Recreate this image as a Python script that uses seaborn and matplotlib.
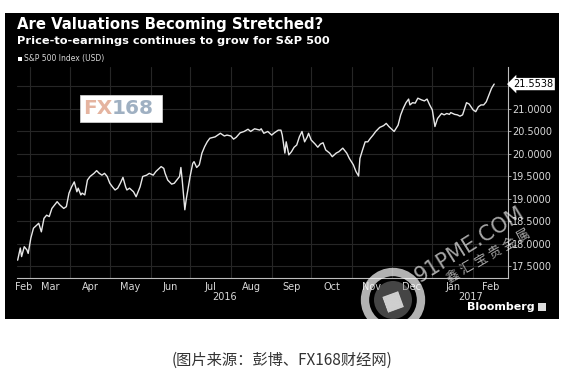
import matplotlib
matplotlib.use("Agg")
import matplotlib.pyplot as plt
import matplotlib.patches as patches
import numpy as np
import pandas as pd
import seaborn as sns

# --- dane (P/E dla S&P 500) ---
dates = [
    "2016-02-21", "2016-02-23", "2016-02-24", "2016-02-26", "2016-02-28", "2016-02-29",
    "2016-03-02", "2016-03-04", "2016-03-08", "2016-03-10", "2016-03-12", "2016-03-14",
    "2016-03-16", "2016-03-18", "2016-03-21", "2016-03-22", "2016-03-24", "2016-03-27",
    "2016-03-29", "2016-03-31", "2016-04-02", "2016-04-04", "2016-04-05", "2016-04-06",
    "2016-04-07", "2016-04-09", "2016-04-10", "2016-04-12", "2016-04-14", "2016-04-16",
    "2016-04-19", "2016-04-21", "2016-04-23", "2016-04-25", "2016-04-27", "2016-04-29",
    "2016-05-01", "2016-05-03", "2016-05-05", "2016-05-07", "2016-05-09", "2016-05-11",
    "2016-05-13", "2016-05-14", "2016-05-16", "2016-05-19", "2016-05-21", "2016-05-24",
    "2016-05-26", "2016-05-29", "2016-05-31", "2016-06-03", "2016-06-05", "2016-06-09",
    "2016-06-11", "2016-06-12", "2016-06-14", "2016-06-17", "2016-06-19", "2016-06-22",
    "2016-06-23", "2016-06-24", "2016-06-25", "2016-06-27", "2016-06-28", "2016-07-01",
    "2016-07-03", "2016-07-04", "2016-07-06", "2016-07-08", "2016-07-10", "2016-07-12",
    "2016-07-14", "2016-07-16", "2016-07-20", "2016-07-22", "2016-07-24", "2016-07-27",
    "2016-07-29", "2016-08-01", "2016-08-03", "2016-08-05", "2016-08-08", "2016-08-11",
    "2016-08-14", "2016-08-16", "2016-08-19", "2016-08-23", "2016-08-24", "2016-08-26",
    "2016-08-29", "2016-09-01", "2016-09-03", "2016-09-06", "2016-09-08", "2016-09-09",
    "2016-09-11", "2016-09-12", "2016-09-14", "2016-09-16", "2016-09-18", "2016-09-20",
    "2016-09-22", "2016-09-24", "2016-09-26", "2016-09-28", "2016-09-29", "2016-10-01",
    "2016-10-04", "2016-10-06", "2016-10-08", "2016-10-10", "2016-10-12", "2016-10-15",
    "2016-10-17", "2016-10-20", "2016-10-22", "2016-10-25", "2016-10-28", "2016-10-30",
    "2016-11-02", "2016-11-04", "2016-11-06", "2016-11-07", "2016-11-09", "2016-11-11",
    "2016-11-13", "2016-11-15", "2016-11-17", "2016-11-19", "2016-11-22", "2016-11-25",
    "2016-11-27", "2016-11-29", "2016-12-03", "2016-12-06", "2016-12-08", "2016-12-10",
    "2016-12-12", "2016-12-14", "2016-12-15", "2016-12-17", "2016-12-19", "2016-12-21",
    "2016-12-24", "2016-12-26", "2016-12-28", "2016-12-30", "2017-01-01", "2017-01-02",
    "2017-01-03", "2017-01-05", "2017-01-08", "2017-01-10", "2017-01-12", "2017-01-14",
    "2017-01-15", "2017-01-18", "2017-01-20", "2017-01-22", "2017-01-24", "2017-01-26",
    "2017-01-27", "2017-01-29", "2017-02-01", "2017-02-03", "2017-02-05", "2017-02-07",
    "2017-02-09", "2017-02-11", "2017-02-13", "2017-02-15", "2017-02-17",
]
pe_ratio = [
    17.64, 17.91, 17.72, 17.94, 17.87, 17.79,
    18.13, 18.35, 18.46, 18.27, 18.57, 18.64,
    18.61, 18.79, 18.90, 18.94, 18.87, 18.79,
    18.83, 19.13, 19.27, 19.38, 19.27, 19.16,
    19.24, 19.09, 19.13, 19.09, 19.42, 19.50,
    19.57, 19.63, 19.57, 19.53, 19.57, 19.50,
    19.35, 19.27, 19.20, 19.24, 19.35, 19.48,
    19.27, 19.20, 19.24, 19.16, 19.05, 19.27,
    19.50, 19.53, 19.57, 19.53, 19.61, 19.72,
    19.68, 19.57, 19.42, 19.33, 19.35, 19.46,
    19.50, 19.70, 19.42, 18.76, 18.98, 19.50,
    19.79, 19.83, 19.70, 19.76, 20.02, 20.16,
    20.27, 20.35, 20.38, 20.42, 20.46, 20.40,
    20.42, 20.40, 20.33, 20.37, 20.47, 20.50,
    20.55, 20.50, 20.56, 20.53, 20.56, 20.46,
    20.50, 20.42, 20.47, 20.53, 20.53, 20.42,
    20.02, 20.27, 19.98, 20.05, 20.15, 20.20,
    20.38, 20.50, 20.27, 20.38, 20.46, 20.31,
    20.22, 20.15, 20.22, 20.25, 20.09, 20.02,
    19.94, 20.02, 20.05, 20.13, 20.02, 19.90,
    19.76, 19.61, 19.51, 19.90, 20.09, 20.27,
    20.27, 20.35, 20.42, 20.50, 20.59, 20.63,
    20.68, 20.61, 20.50, 20.64, 20.87, 21.02,
    21.14, 21.22, 21.09, 21.14, 21.13, 21.24,
    21.20, 21.18, 21.22, 21.09, 20.98, 20.79,
    20.61, 20.79, 20.90, 20.87, 20.90, 20.88,
    20.92, 20.88, 20.87, 20.84, 20.87, 21.05,
    21.14, 21.11, 20.98, 20.94, 21.05, 21.09,
    21.09, 21.16, 21.31, 21.46, 21.5538,
]
y_ticks = [17.5, 18.0, 18.5, 19.0, 19.5, 20.0, 20.5, 21.0, 21.5]
month_names = ["Feb", "Mar", "Apr", "May", "Jun", "Jul", "Aug", "Sep",
               "Oct", "Nov", "Dec", "Jan", "Feb"]
years = ["2016", "2017"]

title = "Are Valuations Becoming Stretched?"
subtitle = "Price-to-earnings continues to grow for S&P 500"
legend_label = "S&P 500 Index (USD)"
caption = "(图片来源：彭博、FX168财经网)"

df = pd.DataFrame({"date": pd.to_datetime(dates), "pe": pe_ratio})

# --- kolory ---
colorBg = '#000000'
colorLine = '#e8e8e8'
colorGrid = '#262626'
colorText = '#d9d9d9'

W, H = 565, 387
def fx(x):
    return x / W
def fy(y):
    return 1 - y / H

sns.set_style("dark")
plt.rcParams['font.family'] = ['DejaVu Sans', 'Noto Sans CJK SC']

fig = plt.figure(figsize=(W / 100, H / 100), dpi=100, facecolor='white')

# czarne tło panelu Bloomberga
fig.patches.append(patches.Rectangle((fx(5), fy(319)), fx(554), 306 / H,
                                     transform=fig.transFigure, facecolor=colorBg,
                                     edgecolor='none', zorder=-5))

ax = fig.add_axes([fx(17), fy(278), fx(508) - fx(17), (278 - 67) / H])
ax.set_facecolor(colorBg)
ax.set_zorder(1)

sns.lineplot(data=df, x="date", y="pe", ax=ax, color=colorLine, linewidth=1.0)

x_start = pd.Timestamp("2016-02-20 12:00")
x_end = pd.Timestamp("2017-02-27 12:00")
ax.set_xlim(x_start, x_end)
ax.set_ylim(17.244, 21.933)

# osie
for s in ['top', 'left']:
    ax.spines[s].set_visible(False)
for s in ['bottom', 'right']:
    ax.spines[s].set_color('#bdbdbd')
    ax.spines[s].set_linewidth(0.8)

ax.yaxis.tick_right()
ax.set_yticks(y_ticks)
ax.set_yticklabels(['%.4f' % v if v < 21.4 else '' for v in y_ticks])
ax.tick_params(axis='y', colors='#bdbdbd', labelcolor=colorText, labelsize=7,
               length=2, width=0.6, pad=1, direction='out')

# granice miesięcy (siatka) i podpisy w środku miesięcy
month_starts = pd.date_range("2016-03-01", "2017-02-01", freq="MS")
ax.set_xticks(month_starts)
ax.set_xticklabels([])
ax.tick_params(axis='x', which='major', colors='#bdbdbd', length=2, width=0.6,
               direction='in')
edges = [x_start] + list(month_starts) + [x_end]
mids = [a + (b - a) / 2 for a, b in zip(edges[:-1], edges[1:])]
ax.set_xticks(mids, minor=True)
ax.set_xticklabels(month_names, minor=True)
ax.tick_params(axis='x', which='minor', length=0, labelcolor=colorText,
               labelsize=7, pad=3)

ax.grid(True, which='major', color=colorGrid, linewidth=0.8)
ax.grid(False, which='minor')
ax.set_xlabel('')
ax.set_ylabel('')

# lata pod miesiącami
jan1 = pd.Timestamp("2017-01-01")
for yr, (a, b) in zip(years, [(x_start, jan1), (jan1, x_end)]):
    ax.text(a + (b - a) / 2, -0.09, yr, transform=ax.get_xaxis_transform(),
            ha='center', va='center', color=colorText, fontsize=7)

# znacznik ostatniej wartości
last = pe_ratio[-1]
ax.annotate('%.4f' % last, xy=(1.0, last), xycoords=('axes fraction', 'data'),
            xytext=(4, 0), textcoords='offset points', ha='left', va='center',
            fontsize=7, color='black', annotation_clip=False,
            bbox=dict(boxstyle='larrow,pad=0.12', fc='white', ec='none'))

# tytuły
fig.text(fx(17), fy(25), title, color='white', fontsize=10.7, fontweight='bold',
         ha='left', va='center')
fig.text(fx(17), fy(41), subtitle, color='white', fontsize=8.2, fontweight='bold',
         ha='left', va='center')
fig.patches.append(patches.Rectangle((fx(18), fy(61)), fx(4), 4 / H,
                                     transform=fig.transFigure, facecolor='white',
                                     edgecolor='none'))
fig.text(fx(24), fy(58.5), legend_label, color=colorText, fontsize=5.5,
         ha='left', va='center')

# logo FX168
fig.patches.append(patches.Rectangle((fx(80), fy(122)), fx(82), 27 / H,
                                     transform=fig.transFigure, facecolor='white',
                                     edgecolor='#cccccc', linewidth=0.6, zorder=5))
fig.text(fx(112), fy(109), "FX", color='#e5b4a0', fontsize=14.5, fontweight='bold',
         ha='right', va='center', zorder=6)
fig.text(fx(112), fy(109), "168", color='#9fb0c2', fontsize=14.5, fontweight='bold',
         ha='left', va='center', zorder=6)

# Bloomberg
fig.text(fx(535), fy(307), "Bloomberg", color='white', fontsize=8, fontweight='bold',
         ha='right', va='center')
fig.patches.append(patches.Rectangle((fx(538), fy(311)), fx(8), 8 / H,
                                     transform=fig.transFigure, facecolor='#dddddd',
                                     edgecolor='none'))

# znak wodny
fig.patches.append(patches.Ellipse((fx(393), fy(300)), fx(56), 56 / H,
                                   transform=fig.transFigure, facecolor='none',
                                   edgecolor='white', linewidth=6, alpha=0.7, zorder=8))
fig.patches.append(patches.Ellipse((fx(393), fy(300)), fx(38), 38 / H,
                                   transform=fig.transFigure, facecolor='#8a8a8a',
                                   edgecolor='none', alpha=0.5, zorder=8))
fig.text(fx(393), fy(300), "■", color='white', fontsize=16, rotation=20,
         ha='center', va='center', alpha=0.75, zorder=9)
fig.text(fx(470), fy(245), "91PME.COM", color='white', fontsize=15, rotation=32,
         ha='center', va='center', alpha=0.65, zorder=9)
fig.text(fx(488), fy(256), "鑫 汇 宝 贵 金 属", color='white', fontsize=9.5,
         rotation=30, ha='center', va='center', alpha=0.65, zorder=9,
         family=['Noto Sans CJK SC', 'DejaVu Sans'])

# podpis pod wykresem
fig.text(fx(282), fy(360), caption, color='#333333', fontsize=11,
         ha='center', va='center', family=['Noto Sans CJK SC', 'DejaVu Sans'])

fig.savefig('out.png', dpi=100, facecolor='white')
